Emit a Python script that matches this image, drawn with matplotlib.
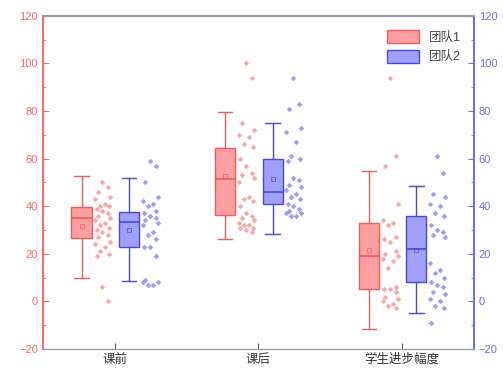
"""
Box plot with jittered points for two teams, before/after class and improvement.
"""

import numpy as np
import matplotlib
matplotlib.use("Agg")
import matplotlib.pyplot as plt
from matplotlib.patches import Patch

plt.rcParams["font.family"] = ["Liberation Sans", "Noto Sans CJK SC", "DejaVu Sans"]

# ── data ─────────────────────────────────────────────────────────────────────

CATEGORIES = ["课前", "课后", "学生进步幅度"]
TEAMS = ["团队1", "团队2"]

# box stats per category: (whislo, q1, median, q3, whishi, mean)
TEAM1_STATS = [
    (10, 26.5, 35, 39.5, 52.5, 31.5),
    (26, 36.5, 51.5, 64.5, 79.5, 52.5),
    (-11.5, 5, 19, 33, 55, 21.5),
]
TEAM2_STATS = [
    (8.5, 23, 33.5, 37.5, 52, 30),
    (28.5, 41, 46, 60, 75, 51.5),
    (-5, 8, 22, 36, 48.5, 21.5),
]

TEAM1_POINTS = [
    [50, 48, 46, 44, 43, 41, 40, 40, 39, 38, 37, 36, 35, 34, 33, 32, 31,
     30, 29, 28, 27, 25, 24, 23, 21, 20, 19, 6, 0],
    [100, 94, 75, 72, 70, 69, 66, 65, 60, 57, 54, 53, 52, 50, 44, 43, 42,
     40, 37, 36, 35, 34, 33, 32, 32, 31, 31, 30, 29],
    [94, 61, 57, 41, 34, 33, 32, 27, 26, 25, 21, 20, 19, 18, 17, 14, 6, 5,
     5, 4, 2, 1, 0, -1, -2, -3],
]
TEAM2_POINTS = [
    [59, 57, 50, 44, 42, 41, 40, 38, 37, 36, 35, 34, 33, 32, 29, 28, 26,
     23, 23, 19, 9, 8, 8, 7, 7],
    [94, 83, 81, 73, 71, 67, 61, 60, 59, 52, 51, 49, 48, 47, 45, 44, 43,
     41, 40, 39, 38, 37, 37, 36, 36],
    [61, 54, 45, 44, 41, 40, 37, 36, 32, 30, 29, 28, 27, 16, 13, 12, 10, 8,
     7, 6, 4, 3, 1, 0, -2, -3, -9],
]

# ── styling ──────────────────────────────────────────────────────────────────

RED_EDGE, RED_FACE, RED_PT = "#f05a5a", "#ffa0a0", "#f59a9a"
BLUE_EDGE, BLUE_FACE, BLUE_PT = "#4848d8", "#a0a0ff", "#8c8cf5"
JITTER = np.array([0.0, 0.04, -0.03, 0.055, -0.05, 0.02, -0.015, 0.045, -0.04])


def draw_team(ax, stats, points, box_off, pt_off, edge, face, ptcol):
    xs = np.arange(1, len(stats) + 1)
    bxp = []
    for (lo, q1, med, q3, hi, mean) in stats:
        bxp.append(dict(whislo=lo, q1=q1, med=med, q3=q3, whishi=hi,
                        mean=mean, fliers=[]))
    ax.bxp(bxp, positions=xs + box_off, widths=0.14, showmeans=True,
           patch_artist=True, showfliers=False, manage_ticks=False,
           boxprops=dict(facecolor=face, edgecolor=edge, linewidth=1.0),
           medianprops=dict(color=edge, linewidth=1.2),
           whiskerprops=dict(color=edge, linewidth=1.0),
           capprops=dict(color=edge, linewidth=1.0),
           capwidths=0.1,
           meanprops=dict(marker="s", markersize=3, markerfacecolor="none",
                          markeredgecolor=edge, markeredgewidth=0.5))
    for x, vals in zip(xs, points):
        vals = np.asarray(vals, dtype=float)
        jit = np.resize(JITTER, len(vals))
        ax.scatter(x + pt_off + jit, vals, s=8, marker="D",
                   color=ptcol, alpha=0.85, linewidths=0, zorder=3)


fig = plt.figure(figsize=(5.03, 3.70), dpi=100)
ax = fig.add_axes([0.085, 0.057, 0.857, 0.9])

draw_team(ax, TEAM1_STATS, TEAM1_POINTS, -0.23, -0.085,
          RED_EDGE, RED_FACE, RED_PT)
draw_team(ax, TEAM2_STATS, TEAM2_POINTS, 0.10, 0.245,
          BLUE_EDGE, BLUE_FACE, BLUE_PT)

ax.set_xlim(0.5, 3.5)
ax.set_ylim(-20, 120)
ax.set_xticks([1, 2, 3])
ax.set_xticklabels(CATEGORIES, fontsize=9, color="#333333")
ax.set_yticks(np.arange(-20, 121, 20))
ax.set_yticks(np.arange(-10, 121, 20), minor=True)
ax.tick_params(axis="y", colors="#f06a6a", labelsize=8, direction="in",
               length=4, which="major")
ax.tick_params(axis="y", colors="#f06a6a", direction="in", length=2,
               which="minor")
ax.tick_params(axis="x", direction="in", length=4, color="#555555")

# right axis mirrors the left scale
ax2 = ax.twinx()
ax2.set_ylim(-20, 120)
ax2.set_yticks(np.arange(-20, 121, 20))
ax2.set_yticks(np.arange(-10, 121, 20), minor=True)
ax2.tick_params(axis="y", colors="#6a6af0", labelsize=8, direction="in",
                length=4, which="major")
ax2.tick_params(axis="y", colors="#6a6af0", direction="in", length=2,
                which="minor")

for a in (ax, ax2):
    a.spines["left"].set_color("#f06a6a")
    a.spines["right"].set_color("#6a6af0")
    a.spines["top"].set_color("#9a9a9a")
    a.spines["bottom"].set_color("#9a9a9a")
    a.spines["top"].set_linewidth(1.5)
    a.spines["left"].set_linewidth(1.2)
    a.spines["right"].set_linewidth(1.2)

handles = [
    Patch(facecolor=RED_FACE, edgecolor=RED_EDGE, label=TEAMS[0]),
    Patch(facecolor=BLUE_FACE, edgecolor=BLUE_EDGE, label=TEAMS[1]),
]
ax2.legend(handles=handles, loc="upper right", frameon=False, fontsize=9,
           handlelength=2.6, handleheight=1.2, labelspacing=0.45,
           bbox_to_anchor=(0.997, 0.99), labelcolor="#444444")

fig.savefig("out.png", dpi=100)
